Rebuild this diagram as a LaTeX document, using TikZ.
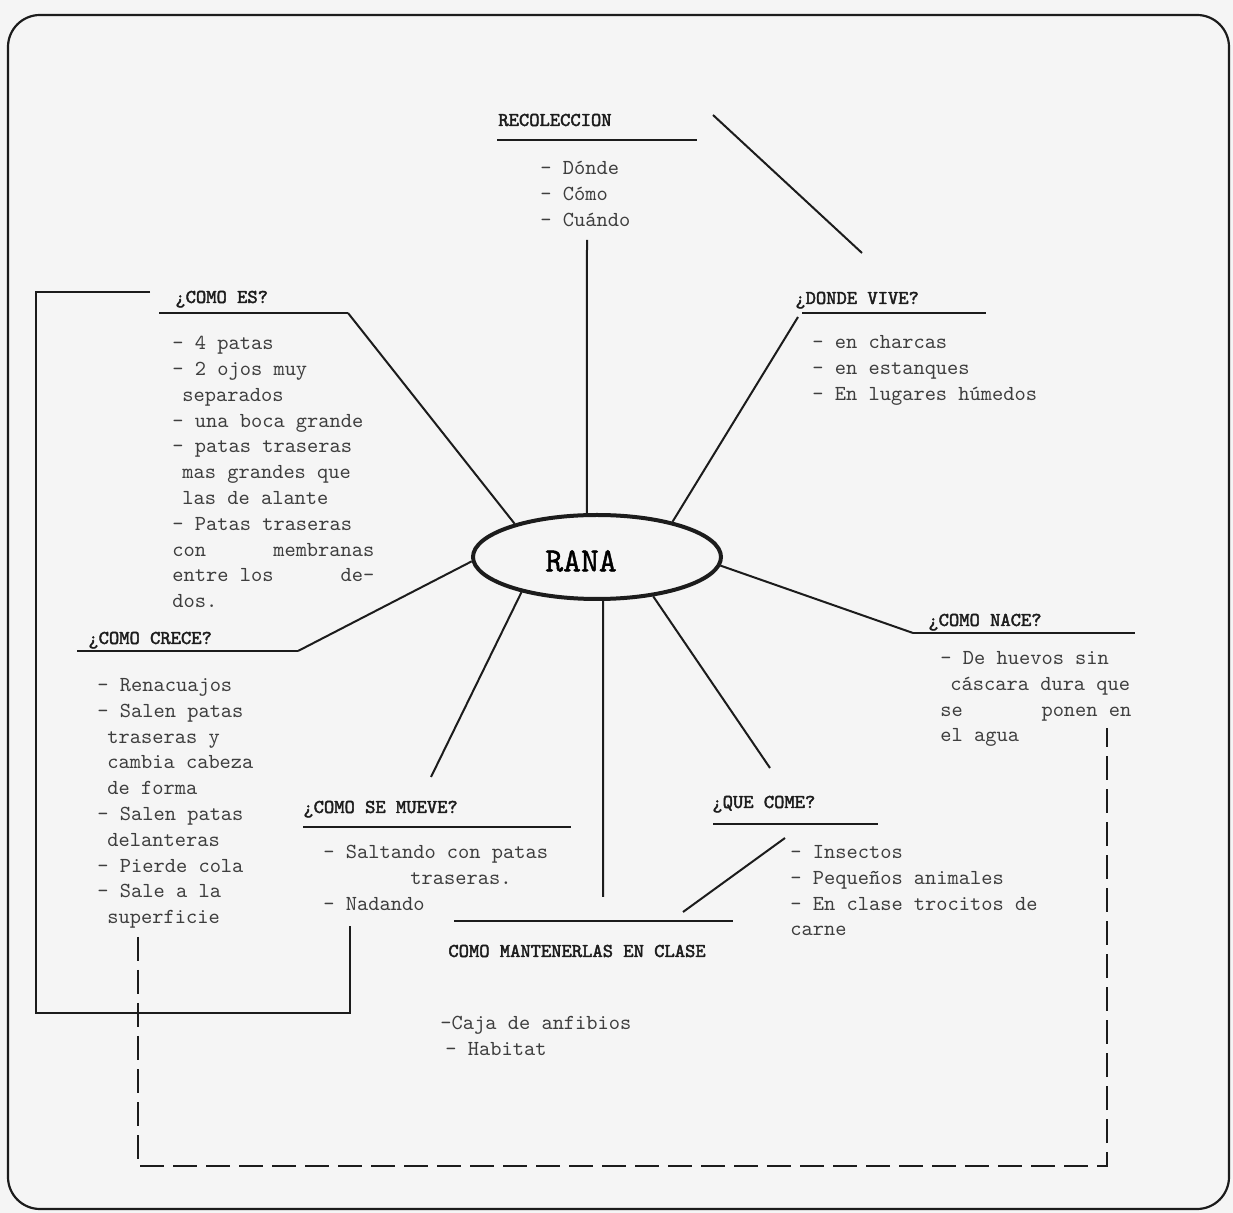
\documentclass[tikz,border=0pt]{standalone}
\usepackage{fontspec}
\newfontfamily\headfont{lmmono10-regular}[Extension=.otf,FakeBold=2.2]
\newfontfamily\ranafont{lmmono10-regular}[Extension=.otf,FakeBold=1.2]
\usetikzlibrary{shapes.geometric}
\definecolor{ink}{RGB}{28,28,28}
\definecolor{paper}{RGB}{245,245,245}

\begin{document}
\begin{tikzpicture}[x=0.5pt,y=-0.5pt,
  head/.style={anchor=base west,inner sep=0pt,font=\headfont\fontsize{9.8}{11}\selectfont,text=ink},
  items/.style={anchor=north west,inner sep=0pt,align=left,font=\ttfamily\fontsize{10.7}{12.9}\selectfont,text=ink!85},
  uline/.style={line width=1.4pt,draw=ink},
  link/.style={line width=1pt,draw=ink},
  frame/.style={line width=1pt,draw=ink}]

\useasboundingbox[fill=paper] (0,0) rectangle (1233,1213);
%Rounded Rect
\draw [line width=1.1pt,draw=ink,rounded corners=16pt] (8,15) rectangle (1229,1209);

%Ellipse
\node (rana) [ellipse,draw=ink,line width=2pt,minimum width=124pt,minimum height=42pt,inner sep=0pt] at (597,557) {};
% Text Node
\node (ranatxt) at (581,561) {\ranafont\fontsize{17}{20}\selectfont RANA};

% Text Node
\node (rec) [head] at (498,126) {RECOLECCION};
\node (recitems) [items] at (540,161) {- Dónde\\- Cómo\\- Cuándo};
% Text Node
\node (dv) [head] at (795,304) {¿DONDE VIVE?};
\node (dvitems) [items] at (812,335) {- en charcas\\- en estanques\\- En lugares húmedos};
% Text Node
\node (es) [head] at (175,303) {¿COMO ES?};
\node (esitems) [items] at (172,336) {- 4 patas\\- 2 ojos muy\\\hspace*{5pt}separados\\- una boca grande\\- patas traseras\\\hspace*{5pt}mas grandes que\\\hspace*{5pt}las de alante\\- Patas traseras\\\makebox[101pt][s]{con\hfill membranas}\\\makebox[101pt][s]{entre los\hfill de-}\\dos.};
% Text Node
\node (cr) [head] at (88,644) {¿COMO CRECE?};
\node (critems) [items] at (97,678) {- Renacuajos\\- Salen patas\\\hspace*{5pt}traseras y\\\hspace*{5pt}cambia cabeza\\\hspace*{5pt}de forma\\- Salen patas\\\hspace*{5pt}delanteras\\- Pierde cola\\- Sale a la\\\hspace*{5pt}superficie};
% Text Node
\node (nc) [head] at (928,626) {¿COMO NACE?};
\node (ncitems) [items] at (940,651) {- De huevos sin\\\hspace*{5pt}cáscara dura que\\\makebox[95.5pt][s]{se\hfill ponen en}\\el agua};
% Text Node
\node (qc) [head] at (712,808) {¿QUE COME?};
\node (qcitems) [items] at (790,845) {- Insectos\\- Pequeños animales\\- En clase trocitos de\\carne};
% Text Node
\node (mv) [head] at (303,813) {¿COMO SE MUEVE?};
\node (mvitems) [items] at (323,845) {- Saltando con patas\\\hspace*{43.5pt}traseras.\\- Nadando};
% Text Node
\node (mt) [head] at (448,957) {COMO MANTENERLAS EN CLASE};
\node (mtitems) [items] at (440,1016) {-Caja de anfibios\\\hspace*{2.5pt}- Habitat};

%Underlines
\draw [uline] (497,140) -- (697,140);
\draw [uline] (159,313) -- (348,313);
\draw [uline] (802,313) -- (986,313);
\draw [uline] (77,651) -- (298,651);
\draw [uline] (913,633) -- (1135,633);
\draw [uline] (713,824) -- (878,824);
\draw [uline] (303,827) -- (571,827);
\draw [uline] (454,921) -- (733,921);

%Straight Lines
\coordinate (recfoot) at (587,240);
\coordinate (dvfoot) at (798,317);
\coordinate (esend) at (348,313);
\coordinate (crend) at (298,651);
\coordinate (mvtop) at (431,777);
\coordinate (mttop) at (603,897);
\coordinate (qctop) at (770,768);
\coordinate (ncend) at (913,633);
\draw [link] (recfoot) -- (rana.103);
\draw [link] (dvfoot) -- (rana.25);
\draw [link] (esend) -- (rana.158);
\draw [link] (crend) -- (rana.182);
\draw [link] (mvtop) -- (rana.205);
\draw [link] (mttop) -- (rana.278);
\draw [link] (qctop) -- (rana.325);
\draw [link] (ncend) -- (rana.356);

%Straight Lines
\coordinate (diaga) at (713,115);
\coordinate (diagb) at (862,253);
\draw [link] (diaga) -- (diagb);
\coordinate (qcfoot) at (785,838);
\coordinate (mtright) at (683,912);
\draw [link] (qcfoot) -- (mtright);

%Frame
\draw [frame] (150,292) -- (36,292) -- (36,1013) -- (350,1013) -- (350,926);
\draw [frame,line width=1.2pt,dash pattern={on 12pt off 4.5pt}] (138,937) -- (138,1166) -- (1107,1166) -- (1107,728);
\end{tikzpicture}
\end{document}
